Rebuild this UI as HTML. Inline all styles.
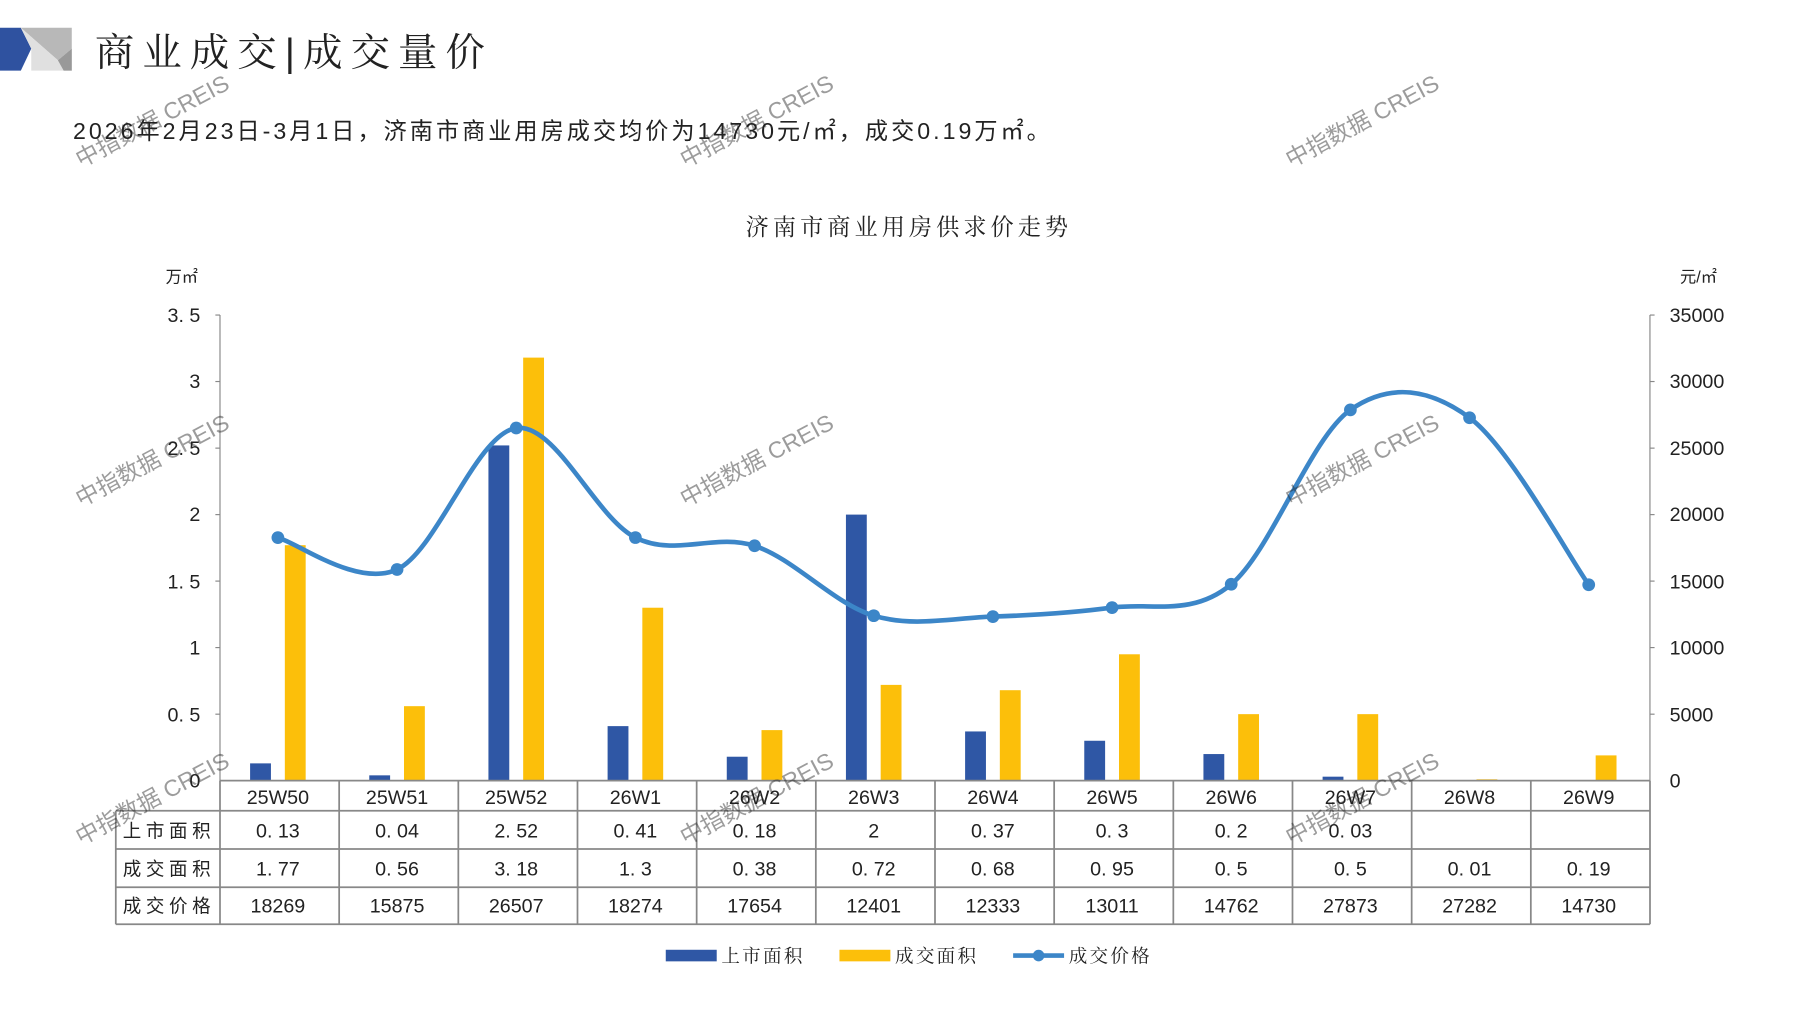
<!DOCTYPE html>
<html><head><meta charset="utf-8"><style>
html,body{margin:0;padding:0;background:#fff;}
svg{display:block;}
text{font-family:"Liberation Sans","Noto Sans CJK SC",sans-serif;fill:#222;}
.s{font-family:"Liberation Serif","Noto Serif CJK SC",serif;}
</style></head><body>
<svg width="1797" height="1010" viewBox="0 0 1552 872" preserveAspectRatio="none" xmlns="http://www.w3.org/2000/svg">
<polygon points="0,24 18,24 27,42 18,61 0,61" fill="#2f52a0"/>
<polygon points="18,24 62,24 62,42 50,52 18,24" fill="#b8b8b8"/>
<polygon points="18,24 50,52 62,42 62,61 27,61 27,42" fill="#e0e0e0"/>
<polygon points="50,52 62,42 62,61 55,61" fill="#999"/>
<text class="s" x="82" y="57" font-size="34" letter-spacing="7">商业成交<tspan font-family="Liberation Sans">|</tspan>成交量价</text>
<text x="63" y="120" font-size="20" letter-spacing="2.6">2026年2月23日-3月1日，济南市商业用房成交均价为14730元/㎡，成交0.19万㎡。</text>
<text class="s" x="785" y="203" font-size="20" text-anchor="middle" letter-spacing="3.5">济南市商业用房供求价走势</text>
<text x="143" y="244" font-size="14">万㎡</text>
<text x="1451" y="244" font-size="14">元/㎡</text>
<g stroke="#888" stroke-width="1">
<line x1="190" y1="272" x2="190" y2="674"/>
<line x1="1425" y1="272" x2="1425" y2="674"/>
<line x1="186" y1="272" x2="190" y2="272"/><line x1="186" y1="329.4" x2="190" y2="329.4"/><line x1="186" y1="386.9" x2="190" y2="386.9"/><line x1="186" y1="444.3" x2="190" y2="444.3"/><line x1="186" y1="501.7" x2="190" y2="501.7"/><line x1="186" y1="559.1" x2="190" y2="559.1"/><line x1="186" y1="616.6" x2="190" y2="616.6"/>
<line x1="1425" y1="272" x2="1429" y2="272"/><line x1="1425" y1="329.4" x2="1429" y2="329.4"/><line x1="1425" y1="386.9" x2="1429" y2="386.9"/><line x1="1425" y1="444.3" x2="1429" y2="444.3"/><line x1="1425" y1="501.7" x2="1429" y2="501.7"/><line x1="1425" y1="559.1" x2="1429" y2="559.1"/><line x1="1425" y1="616.6" x2="1429" y2="616.6"/>
</g>
<g font-size="17" text-anchor="end">
<text x="173" y="278">3. 5</text><text x="173" y="335">3</text><text x="173" y="393">2. 5</text><text x="173" y="450">2</text><text x="173" y="508">1. 5</text><text x="173" y="565">1</text><text x="173" y="623">0. 5</text><text x="173" y="680">0</text>
</g>
<g font-size="17">
<text x="1442" y="278">35000</text><text x="1442" y="335">30000</text><text x="1442" y="393">25000</text><text x="1442" y="450">20000</text><text x="1442" y="508">15000</text><text x="1442" y="565">10000</text><text x="1442" y="623">5000</text><text x="1442" y="680">0</text>
</g>
<g id="bars"></g>
<path id="line" fill="none" stroke="#3c86c8" stroke-width="4"/>
<g id="dots" fill="#3c86c8"></g>
<g id="tbl" stroke="#888" stroke-width="1.5" fill="none"></g>
<g id="ttxt" font-size="17" text-anchor="middle"></g>
<rect x="575" y="820" width="44" height="10" fill="#2f57a5"/>
<text x="623" y="831" font-size="16" class="s" letter-spacing="2">上市面积</text>
<rect x="725" y="820" width="44" height="10" fill="#fcbf0a"/>
<text x="773" y="831" font-size="16" class="s" letter-spacing="2">成交面积</text>
<line x1="875" y1="825" x2="919" y2="825" stroke="#3c86c8" stroke-width="4"/>
<circle cx="897" cy="825" r="5" fill="#3c86c8"/>
<text x="923" y="831" font-size="16" class="s" letter-spacing="2">成交价格</text>
<g font-size="20" fill="#ccc" style="opacity:.45" id="wm"></g>
</svg>
<script>
var NS="http://www.w3.org/2000/svg";
function el(t,a,p,txt){var e=document.createElementNS(NS,t);for(var k in a)e.setAttribute(k,a[k]);if(txt!=null)e.textContent=txt;document.getElementById(p).appendChild(e);return e;}
var cats=["25W50","25W51","25W52","26W1","26W2","26W3","26W4","26W5","26W6","26W7","26W8","26W9"];
var sup=[0.13,0.04,2.52,0.41,0.18,2,0.37,0.3,0.2,0.03,null,null];
var deal=[1.77,0.56,3.18,1.3,0.38,0.72,0.68,0.95,0.5,0.5,0.01,0.19];
var price=[18269,15875,26507,18274,17654,12401,12333,13011,14762,27873,27282,14730];
var y0=674,k=402/3.5,cw=102.92;
var pts=[];
for(var i=0;i<12;i++){
 var cx=240+cw*i;
 if(sup[i]){var h=sup[i]*k;el("rect",{x:cx-24,y:y0-h,width:18,height:h,fill:"#2f57a5"},"bars");}
 var h2=deal[i]*k;el("rect",{x:cx+6,y:y0-h2,width:18,height:h2,fill:"#fcbf0a"},"bars");
 pts.push([cx,y0-price[i]*402/35000]);
 el("circle",{cx:cx,cy:y0-price[i]*402/35000,r:5.5},"dots");
}
var d="M"+pts[0][0]+","+pts[0][1];
for(var i=0;i<11;i++){
 var p0=pts[Math.max(0,i-1)],p1=pts[i],p2=pts[i+1],p3=pts[Math.min(11,i+2)];
 var c1=[p1[0]+(p2[0]-p0[0])/6,p1[1]+(p2[1]-p0[1])/6];
 var c2=[p2[0]-(p3[0]-p1[0])/6,p2[1]-(p3[1]-p1[1])/6];
 d+=" C"+c1+" "+c2+" "+p2;
}
document.getElementById("line").setAttribute("d",d);
el("line",{x1:190,y1:674,x2:1425,y2:674},"tbl");
el("line",{x1:100,y1:700,x2:1425,y2:700},"tbl");
el("line",{x1:100,y1:733,x2:1425,y2:733},"tbl");
el("line",{x1:100,y1:766,x2:1425,y2:766},"tbl");
el("line",{x1:100,y1:798,x2:1425,y2:798},"tbl");
el("line",{x1:100,y1:700,x2:100,y2:798},"tbl");
for(var i=0;i<=12;i++){var x=190+cw*i;el("line",{x1:x,y1:674,x2:x,y2:798},"tbl");}
var labs=["上市面积","成交面积","成交价格"];
for(var r=0;r<3;r++){el("text",{x:146,y:[723,756,788][r],"font-size":16,"letter-spacing":"4"},"ttxt",labs[r]);}
function f(v){return v==null?"":String(v).replace(".",". ");}
for(var i=0;i<12;i++){var cx=240+cw*i;
 el("text",{x:cx,y:694},"ttxt",cats[i]);
 el("text",{x:cx,y:723},"ttxt",f(sup[i]));
 el("text",{x:cx,y:756},"ttxt",f(deal[i]));
 el("text",{x:cx,y:788},"ttxt",price[i]);
}
var wm=[[70,145],[592,145],[1115,145],[70,438],[592,438],[1115,438],[70,730],[592,730],[1115,730]];
wm.forEach(function(w){el("text",{x:w[0],y:w[1],transform:"rotate(-28 "+w[0]+" "+w[1]+")",fill:"#bbb"},"wm","中指数据 CREIS");});
</script>
</body></html>
